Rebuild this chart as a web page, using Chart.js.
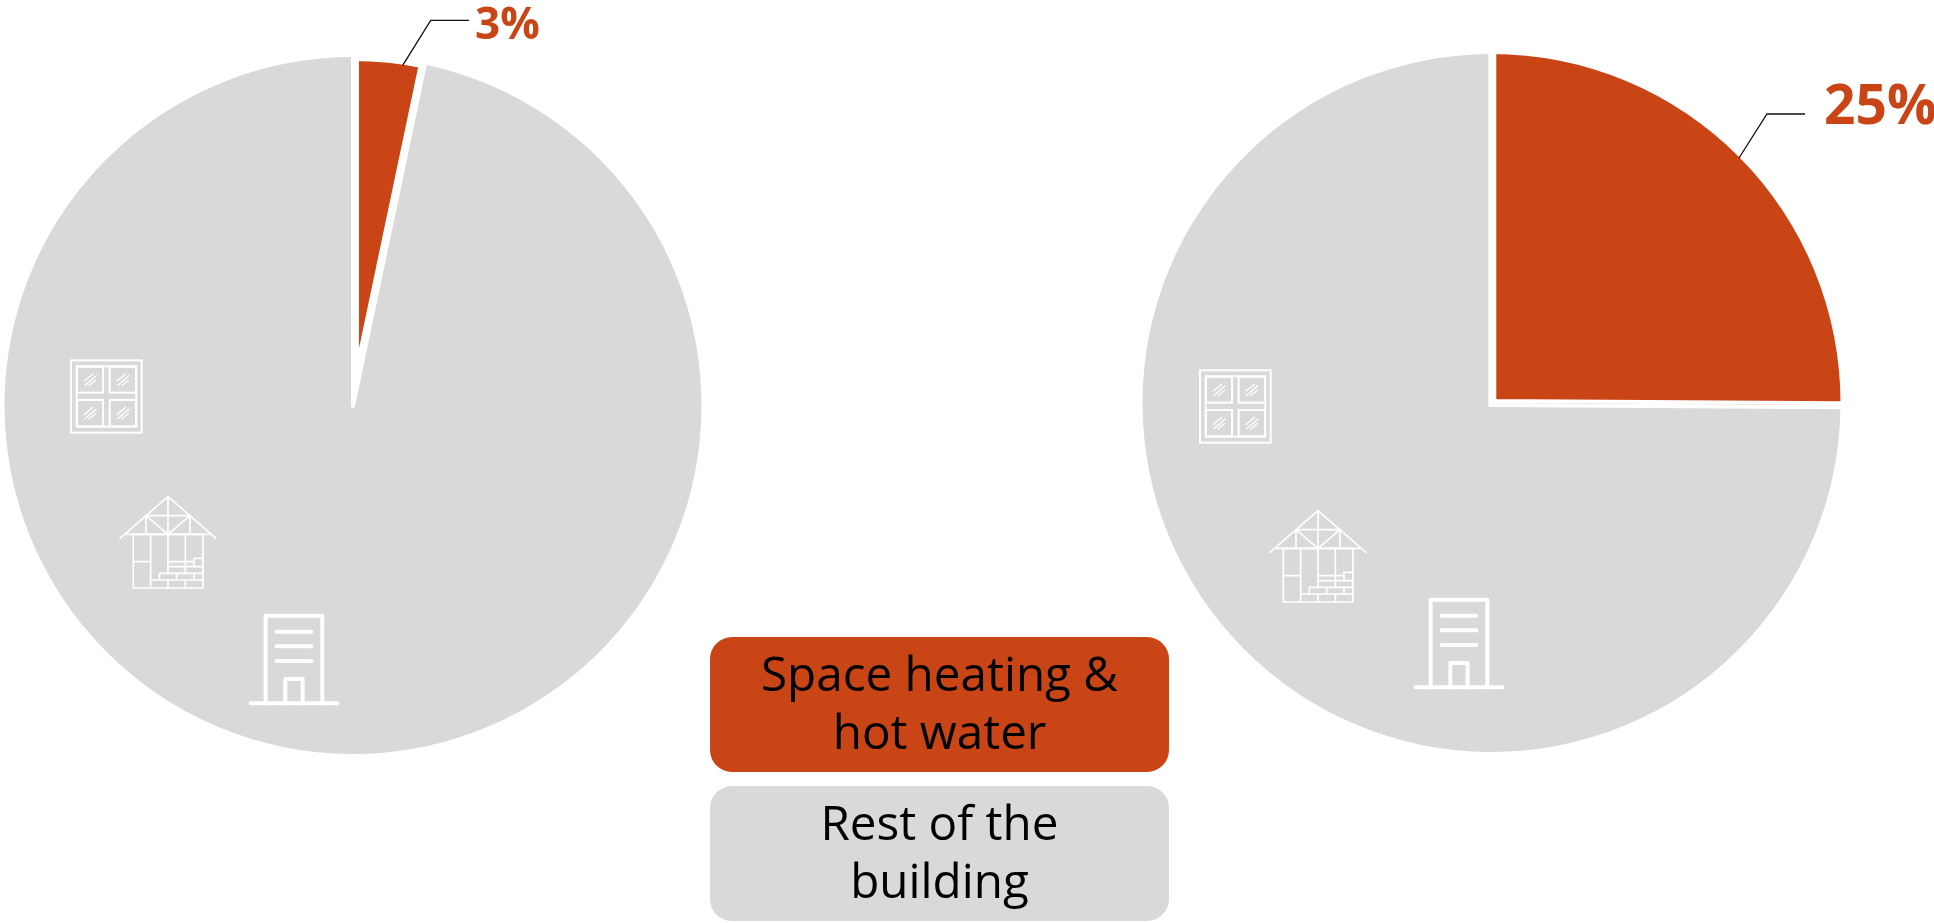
<!DOCTYPE html>
<html lang="en">
<head>
    <meta charset="UTF-8">
    <title>Space heating and hot water share</title>
    <style>
        html, body {
            margin: 0;
            padding: 0;
            width: 1934px;
            height: 923px;
            overflow: hidden;
            background: #fff;
            font-family: 'Open Sans', sans-serif;
        }
        canvas { position: absolute; }
        #left-pie { left: 4px; top: 57px; }
        #right-pie { left: 1142px; top: 54px; }
        svg { position: absolute; left: 0; top: 0; pointer-events: none; }
        .callout {
            position: absolute;
            font-weight: 700;
            color: #ca4516;
            line-height: 1;
            white-space: nowrap;
        }
        #left-label { left: 475px; top: 0px; font-size: 44px; }
        #right-label { left: 1824px; top: 75px; font-size: 55px; }
        .key {
            position: absolute;
            left: 710px;
            width: 459px;
            height: 135px;
            box-sizing: border-box;
            padding-bottom: 6px;
            border-radius: 22px;
            display: flex;
            align-items: center;
            justify-content: center;
            text-align: center;
            font-size: 47.6px;
            line-height: 58px;
            color: #000;
        }
        .key span { display: block; width: 400px; }
    </style>
    <script src="https://cdn.jsdelivr.net/npm/chart.js"></script>
</head>
<body>
    <canvas id="left-pie" width="698" height="697"></canvas>
    <canvas id="right-pie" width="699" height="698"></canvas>

    <svg width="1934" height="923" viewBox="0 0 1934 923">
        <defs>
            <!-- icons traced in 3x units, so scale(1/3) when placed -->
            <g id="window-icon" fill="none" stroke="#fff">
                <g stroke-width="6">
                    <rect x="213" y="61" width="212" height="217"/>
                    <rect x="230" y="79" width="179" height="181"/>
                    <rect x="231" y="80" width="78" height="78"/>
                    <rect x="329" y="80" width="79" height="78"/>
                    <rect x="231" y="180" width="78" height="79"/>
                    <rect x="329" y="180" width="79" height="79"/>
                </g>
                <g stroke-width="4">
                    <path d="M252 124L280 101M254 137L290 106M266 138L288 120"/>
                    <path d="M350 124L378 101M352 137L388 106M364 138L386 120"/>
                    <path d="M252 224L280 201M254 237L290 206M266 238L288 220"/>
                    <path d="M350 224L378 201M352 237L388 206M364 238L386 220"/>
                </g>
            </g>
            <g id="house-icon" fill="none" stroke="#fff" stroke-width="5" stroke-linecap="round" stroke-linejoin="round">
                <path d="M360 595L504 470L648 595"/>
                <path d="M380 583H630"/>
                <rect x="400" y="583" width="209" height="161"/>
                <path d="M452 583V744M504 470V700M556 583V700"/>
                <path d="M438 527H570M438 527V583M570 527V583M438 527L504 583L570 527"/>
                <path d="M400 665H452M504 665H582M582 655H609M582 655V680M504 680H609"/>
                <path d="M478 700H609M478 700V720M452 720H609M530 700V720M582 700V720M504 720V744M556 720V744"/>
            </g>
            <g id="office-icon" fill="none" stroke="#fff" stroke-width="12" stroke-linecap="round" stroke-linejoin="round">
                <path d="M797 1090V827H967V1090"/>
                <path d="M752 1090H1012"/>
                <path d="M830 875H934M830 919H934M830 963H934"/>
                <path d="M856 1090V1017H908V1090"/>
            </g>
        </defs>

        <use href="#window-icon" transform="translate(0 340) scale(0.3333)"/>
        <use href="#house-icon" transform="translate(0 340) scale(0.3333)"/>
        <use href="#office-icon" transform="translate(0 340) scale(0.3333)"/>
        <use href="#window-icon" transform="translate(1129 350) scale(0.3333)"/>
        <use href="#house-icon" transform="translate(1150 354) scale(0.3333)"/>
        <use href="#office-icon" transform="translate(1165 324) scale(0.3333)"/>

        <g fill="none" stroke="#111" stroke-width="1.3">
            <path d="M402.7 65.3L430.7 20.3H469"/>
            <path d="M1739 158L1767 114H1805"/>
        </g>
    </svg>

    <div class="callout" id="left-label"></div>
    <div class="callout" id="right-label"></div>

    <div class="key" id="key-heat" style="top:637px;background:#ca4516"><span></span></div>
    <div class="key" id="key-rest" style="top:786px;background:#d9d9d9"><span></span></div>

    <script>
        const categories = ['Space heating & hot water', 'Rest of the building'];
        const colors = ['#ca4516', '#d9d9d9'];
        // the printed labels are rounded
        const leftValues = [3.3, 96.7];
        const rightValues = [25.1, 74.9];
        const calloutLabels = ['3%', '25%'];

        document.getElementById('left-label').textContent = calloutLabels[0];
        document.getElementById('right-label').textContent = calloutLabels[1];
        document.querySelector('#key-heat span').textContent = categories[0];
        document.querySelector('#key-rest span').textContent = categories[1];

        // white gap around the highlighted slice: thin halo outside, wider inset inside
        const sliceGap = {
            id: 'sliceGap',
            afterDatasetsDraw(chart, args, opts) {
                const arc = chart.getDatasetMeta(0).data[0];
                const { x, y, startAngle, endAngle, outerRadius } = arc;
                const c = chart.ctx;
                const vx = x + opts.shiftX;
                const vy = y + opts.shiftY;
                const r = outerRadius + 3;
                const edge = () => {
                    c.beginPath();
                    c.moveTo(vx + Math.cos(startAngle) * r, vy + Math.sin(startAngle) * r);
                    c.lineTo(vx, vy);
                    c.lineTo(vx + Math.cos(endAngle) * r, vy + Math.sin(endAngle) * r);
                };
                c.save();
                c.strokeStyle = '#fff';
                c.lineJoin = 'round';
                c.lineWidth = 4;
                edge();
                c.stroke();
                c.beginPath();
                c.moveTo(x, y);
                c.arc(x, y, outerRadius + 1, startAngle, endAngle);
                c.closePath();
                c.clip();
                c.lineWidth = 12;
                edge();
                c.stroke();
                if (opts.outerInset) {
                    c.lineWidth = opts.outerInset * 2;
                    c.beginPath();
                    c.arc(x, y, outerRadius, startAngle, endAngle);
                    c.stroke();
                }
                c.restore();
            }
        };

        function drawPie(id, values, gap) {
            return new Chart(document.getElementById(id), {
                type: 'pie',
                data: {
                    labels: categories,
                    datasets: [{
                        data: values,
                        backgroundColor: colors,
                        borderWidth: 0
                    }]
                },
                options: {
                    responsive: false,
                    animation: false,
                    layout: { padding: 0 },
                    plugins: {
                        legend: { display: false },
                        tooltip: { enabled: false },
                        sliceGap: gap
                    }
                },
                plugins: [sliceGap]
            });
        }

        drawPie('left-pie', leftValues, { outerInset: 4, shiftX: 0, shiftY: 0.5 });
        drawPie('right-pie', rightValues, { outerInset: 0, shiftX: -1.2, shiftY: 2 });
    </script>
</body>
</html>
